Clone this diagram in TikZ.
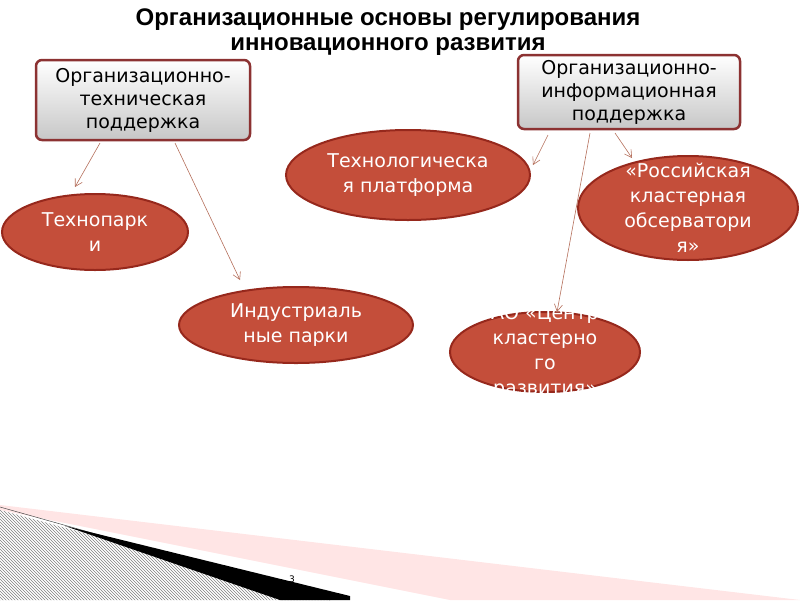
\documentclass[tikz,border=0pt]{standalone}
\usepackage{fontspec}
\setmainfont{DejaVu Sans}
\newfontfamily\titlefont{Liberation Sans}
\usetikzlibrary{shapes.geometric,patterns,arrows.meta}
\definecolor{ellfill}{RGB}{196,78,58}
\definecolor{elldraw}{RGB}{150,40,28}
\definecolor{boxdraw}{RGB}{140,50,50}
\definecolor{arr}{RGB}{180,110,90}
\tikzset{
 ell/.style={ellipse,fill=ellfill,draw=elldraw,line width=2pt,inner sep=0pt},
 elltext/.style={text=white,font=\fontsize{19}{25}\selectfont,align=center,inner sep=0pt},
 topbox/.style={rounded corners=6pt,draw=boxdraw,line width=2.5pt,top color=white,bottom color=black!22,font=\fontsize{19}{23}\selectfont,align=center,inner sep=0pt},
 conn/.style={draw=arr,line width=0.6pt,-{Straight Barb[length=7pt,width=8pt]}}
}
\begin{document}
\begin{tikzpicture}[x=1pt,y=-1pt]
\useasboundingbox (0,0) rectangle (800,600);
% footer
\fill[red!10] (0,505) -- (800,600) -- (450,600) -- (0,510) -- cycle;
\fill[pattern=north west lines,pattern color=black!50] (0,510) -- (330,600) -- (0,600) -- cycle;
\draw[black!70,line width=0.5pt] (0,507) -- (330,600);
\fill[black] (65,526) -- (350,596) -- (350,600) -- (280,600) -- cycle;
\node[font=\fontsize{9}{10}\selectfont] (pg) at (292,579) {3};
% title
\node[font=\titlefont\bfseries\fontsize{24}{25}\selectfont,align=center] (title) at (388,32) {Организационные основы регулирования\\инновационного развития};
% boxes
\node[topbox,minimum width=214pt,minimum height=80pt] (lb) at (143,100) {Организационно-\\техническая\\поддержка};
\node[topbox,minimum width=222pt,minimum height=74pt] (rb) at (629,92) {Организационно-\\информационная\\поддержка};
% ellipses
\node[ell,minimum width=244pt,minimum height=90pt] (tp) at (408,175) {};
\node[elltext] (tpt) at (tp) {Технологическа\\я платформа};
\node[ell,minimum width=186pt,minimum height=76pt] (tk) at (95,232) {};
\node[elltext] (tkt) at (tk) {Технопарк\\и};
\node[ell,minimum width=234pt,minimum height=76pt] (ip) at (296,325) {};
\node[elltext] (ipt) at (ip) {Индустриаль\\ные парки};
\node[ell,minimum width=220pt,minimum height=104pt] (rk) at (688,208) {};
\node[elltext] (rkt) at (rk) {«Российская\\кластерная\\обсерватори\\я»};
\node[ell,minimum width=190pt,minimum height=80pt] (ao) at (545,352) {};
\begin{scope}
\clip (ao.center) ellipse [x radius=96pt, y radius=42pt];
\node[elltext] (aot) at (ao) {АО «Центр\\кластерно\\го\\развития»};
\end{scope}
% connectors
\coordinate (l1) at (100,143); \coordinate (l2) at (175,143);
\coordinate (r1) at (548,135); \coordinate (r2) at (590,133); \coordinate (r3) at (615,133);
\draw[conn] (l1) -- (75,187);
\draw[conn] (l2) -- (240,280);
\draw[conn] (r1) -- (533,165);
\draw[conn] (r2) -- (557,312);
\draw[conn] (r3) -- (632,158);
\end{tikzpicture}
\end{document}
